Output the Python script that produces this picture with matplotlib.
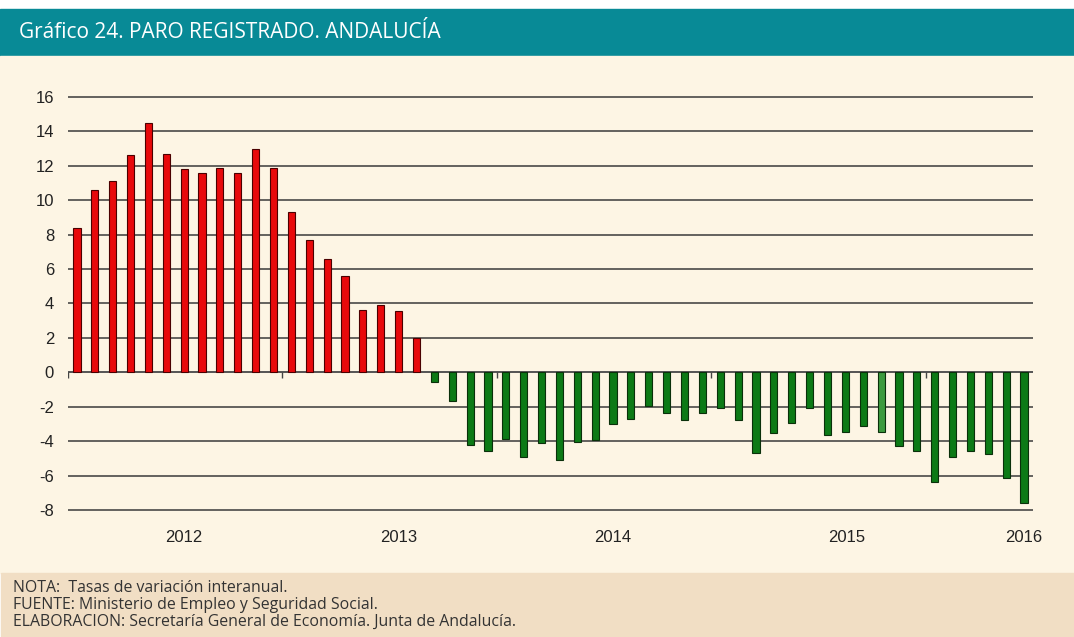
import matplotlib
matplotlib.use("Agg")
from matplotlib import pyplot as plt
from matplotlib.patches import Rectangle
import matplotlib.transforms as mtransforms

# tasas de variacion interanual del paro registrado (meses consecutivos)
rojo = [8.4, 10.6, 11.1, 12.6, 14.5, 12.7, 11.8, 11.6, 11.9, 11.6,
        13.0, 11.9, 9.3, 7.7, 6.6, 5.6, 3.6, 3.9, 3.55, 2.0]
verde = [-0.55, -1.65, -4.2, -4.6, -3.85, -4.95, -4.1, -5.1, -4.05, -3.95,
         -3.0, -2.7, -1.95, -2.35, -2.75, -2.35, -2.05, -2.75, -4.7, -3.5,
         -2.95, -2.05, -3.65, -3.45, -3.1, -3.45, -4.3, -4.6, -6.35, -4.95,
         -4.55, -4.75, -6.15, -7.6]
years = ['2012', '2013', '2014', '2015', '2016']
year_pos = [6, 18, 30, 43.1, 53]
year_ticks = [-0.5, 11.5, 23.5, 35.5, 47.5]
yticks = list(range(-8, 17, 2))

values = rojo + verde
colors = ['#e8090b'] * len(rojo) + ['#0c7a16'] * len(verde)
colors[len(rojo) + 25] = '#3c9a3e'  # barra mas clara
edges = ['#4a0000'] * len(rojo) + ['#0a300a'] * len(verde)
x = list(range(len(values)))

fig = plt.figure(figsize=(10.74, 6.37), dpi=100)
fig.patch.set_facecolor('white')
H = 637.0
fig.patches.append(Rectangle((0, (H - 56) / H), 1, 47 / H, transform=fig.transFigure,
                             color='#088a96', zorder=-5))
fig.patches.append(Rectangle((0, (H - 573) / H), 1, 517 / H, transform=fig.transFigure,
                             color='#fdf5e4', zorder=-5))
fig.patches.append(Rectangle((0.001, 0), 1, 64 / H, transform=fig.transFigure,
                             color='#f1dec4', zorder=-5))

fig.text(19 / 1074, (H - 32) / H, 'Gráfico 24. PARO REGISTRADO. ANDALUCÍA',
         color='white', fontsize=15, family='Open Sans', va='center', ha='left')

notas = ['NOTA:  Tasas de variación interanual.',
         'FUENTE: Ministerio de Empleo y Seguridad Social.',
         'ELABORACION: Secretaría General de Economía. Junta de Andalucía.']
for i, t in enumerate(notas):
    fig.text(13 / 1074, (H - 588 - 17 * i) / H, t, color='#333333', fontsize=11.4,
             family='Open Sans', va='center', ha='left')

ax = fig.add_axes([68 / 1074, 0.1859, 965 / 1074, 0.6754])
ax.set_facecolor('none')
ax.bar(x, values, width=0.4, color=colors, edgecolor=edges, linewidth=0.8, zorder=3)

ax.set_xlim(-0.5, len(values) - 0.5)
ax.set_ylim(-8.5, 16.5)
ax.set_yticks(yticks)
ax.set_yticklabels([str(v) for v in yticks], fontsize=12, family='Liberation Sans',
                   color='#222222')
ax.tick_params(axis='y', length=0, pad=10)
ax.set_xticks([])
ax.grid(axis='y', color='#3a3a3a', linewidth=1.1, zorder=1)
ax.axhline(0, color='#555555', linewidth=1.2, zorder=2)
ax.vlines(year_ticks, -0.35, 0, color='#444444', linewidth=1.0, zorder=2)
for s in ax.spines.values():
    s.set_visible(False)

trans = mtransforms.blended_transform_factory(ax.transData, ax.transAxes)
for pos, lab in zip(year_pos, years):
    ax.text(pos, -0.043, lab, transform=trans, ha='center', va='center',
            fontsize=12, family='Liberation Sans', color='#222222')

fig.savefig('out.png', dpi=100, facecolor=fig.get_facecolor())
